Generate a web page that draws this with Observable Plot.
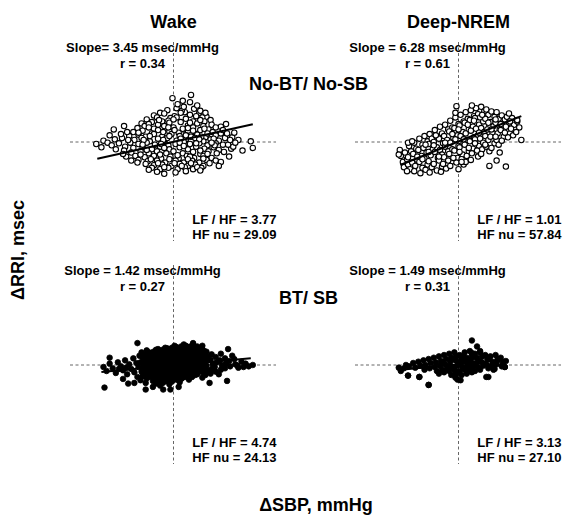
<!DOCTYPE html>
<html><head><meta charset="utf-8">
<script src="https://cdn.jsdelivr.net/npm/d3@7"></script>
<script src="https://cdn.jsdelivr.net/npm/@observablehq/plot@0.6"></script>
<style>
body{margin:0;background:#fff;font-family:"Liberation Sans",Arial,sans-serif;}
#wrap{position:relative;width:569px;height:527px;}
.lab{position:absolute;font-weight:bold;font-size:18px;color:#000;white-space:nowrap;line-height:1;}
#ylab{left:18px;top:250px;transform:translate(-50%,-50%) rotate(-90deg);}
#xlab{left:316px;top:505px;transform:translate(-50%,-50%);}
svg text{font-weight:bold;}
</style></head><body>
<div id="wrap"></div>
<script>
const states = ["Wake", "Deep-NREM"];
const groups = ["No-BT/ No-SB", "BT/ SB"];
const slopeLabels = ["Slope= 3.45 msec/mmHg", "Slope = 6.28 msec/mmHg", "Slope = 1.42 msec/mmHg", "Slope = 1.49 msec/mmHg"];
const rLabels = ["r = 0.34", "r = 0.61", "r = 0.27", "r = 0.31"];
const lfhfLabels = ["LF / HF = 3.77", "LF / HF = 1.01", "LF / HF = 4.74", "LF / HF = 3.13"];
const hfnuLabels = ["HF nu = 29.09", "HF nu = 57.84", "HF nu = 24.13", "HF nu = 27.10"];
const slopes = [3.45, 6.28, 1.42, 1.49];
const intercepts = [0.3, 0.8, -0.5, 1.2];
const lineFrom = [-7.4, -5.65, -7.0, -5.85];
const lineTo = [7.7, 6.1, 7.5, 4.5];
const xLabel = "ΔSBP, mmHg";
const yLabel = "ΔRRI, msec";

// ΔSBP (mmHg), ΔRRI (msec) pairs
const wakeNoBT = [
[-0.6,48],[0.3,51],[1.1,45],[2.0,50],[-1.3,44],[0.8,47],
[-1.9,40],[-0.9,43],[0.1,39],[0.7,44],[1.6,41],[2.5,44],[3.2,38],[-0.3,36],
[-2.6,34],[-1.6,37],[-0.5,32],[0.3,37],[1.2,35],[1.9,31],[2.8,37],[3.6,33],[-1.1,31],
[-3.1,28],[-2.1,30],[-1.5,26],[-0.4,29],[0.7,30],[1.4,25],[2.3,28],[3.0,31],[3.7,26],[4.6,23],[2.6,33],
[-3.5,21],[-2.8,24],[-1.9,20],[-0.9,24],[0.0,22],[1.0,19],[1.9,22],[2.9,24],[3.4,19],[4.1,22],[-2.4,27],
[-3.9,15],[-3.0,17],[-2.1,13],[-1.5,18],[-0.4,16],[0.5,14],[1.4,17],[2.2,12],[2.6,18],[3.8,15],[4.6,13],[0.9,20],
[-4.3,9],[-3.4,11],[-2.7,8],[-1.9,12],[-1.1,8],[-0.2,12],[0.6,9],[1.7,8],[2.3,11],[3.1,7],[4.1,10],[5.0,6],[-0.8,4],
[-3.8,3],[-3.1,6],[-2.3,1],[-1.5,5],[-0.6,6],[0.3,2],[1.2,4],[2.1,6],[2.9,1],[3.6,4],[4.4,2],
[-4.2,-1],[-3.4,-3],[-2.6,-1],[-1.8,-4],[-1.0,0],[0.2,-3],[1.0,0],[1.6,-3],[2.5,-2],[3.3,-5],[4.1,-2],[4.8,-4],[-0.5,-5],
[-3.9,-9],[-3.0,-8],[-2.1,-11],[-1.3,-7],[-0.4,-11],[0.6,-8],[1.4,-11],[2.2,-7],[3.0,-10],[3.9,-8],[4.4,-12],
[-4.1,-16],[-3.2,-14],[-2.4,-17],[-1.6,-14],[-0.7,-17],[0.0,-14],[0.9,-17],[1.9,-15],[2.6,-18],[3.4,-14],[4.2,-17],
[-3.7,-21],[-2.8,-23],[-1.9,-21],[-1.2,-25],[-0.3,-22],[0.5,-25],[1.3,-21],[2.0,-24],[2.9,-21],[3.7,-24],
[-3.4,-27],[-2.5,-29],[-1.6,-28],[-0.8,-31],[0.2,-28],[1.0,-31],[1.8,-28],[2.5,-31],[3.2,-27],[4.1,-28],
[-2.7,-33],[-1.9,-35],[-1.1,-34],[-0.2,-36],[0.6,-33],[1.4,-36],[2.1,-34],[2.9,-36],[3.5,-32],
[-2.1,-39],[-1.3,-41],[-0.5,-39],[0.4,-41],[1.1,-38],[1.9,-41],[2.7,-39],
[-1.4,33],[0.0,34],[1.6,29],[2.2,39],[-2.4,22],[-0.5,22],[1.4,21],[3.0,20],[-3.4,14],[-1.0,15],
[0.1,18],[1.9,17],[3.3,13],[-2.3,9],[-0.4,9],[1.2,10],[2.7,8],[3.9,5],[-2.9,3],[-1.0,3],
[0.7,5],[2.5,4],[4.0,-5],[-3.0,-4],[-1.2,-3],[0.6,-1],[2.2,-2],[3.7,-1],[-2.6,-12],[-0.9,-9],
[1.0,-6],[2.6,-13],[-3.2,-19],[-1.3,-19],[0.4,-20],[1.6,-22],[3.3,-18],[-2.2,-26],[-0.4,-26],[1.4,-26],
[2.9,-25],[-1.5,-32],[0.1,-32],[1.7,-32],[-0.9,-38],[0.8,-36],[2.3,-38],
[-7.5,-3],[-7.0,-8],[-6.8,2],[-6.4,-1],[-6.0,-5],[-5.7,4],[-5.3,-2],[-5.0,6],[-4.7,-7],[-4.4,3],
[-4.8,-13],[-5.6,-11],[-5.8,19],[-4.8,24],[-4.6,-22],[-4.1,-28],[-3.5,-31],[-6.2,10],[-5.1,12],[-4.5,15],[-4.9,-18],
[5.1,27],[5.7,7],[6.3,3],[7.5,1],[7.7,-9],[6.7,-13],[5.6,-10],[5.8,-7],[5.3,-4],[5.5,3],[6.0,-1],[4.8,18],[5.2,13],[4.9,-15],[5.4,-22],[4.6,-30],[4.4,-36],[5.9,14],
[-0.1,66],[1.7,71],[1.6,60],[0.4,57],[1.0,53],[2.3,55],[2.6,47],[3.1,44],[0.9,62],
[-1.6,-45],[1.2,-44],[-2.4,-42],[0.2,-46],[-0.9,-48],[2.6,-43]
];

const deepNoBT = [
[-5.6,-21],[-5.4,-30],[-5.7,-12],
[-5.2,-16],[-5.0,-26],[-5.3,-38],[-4.9,-34],
[-4.8,-6],[-4.6,-14],[-4.9,-23],[-4.5,-31],[-4.7,-41],
[-4.3,-1],[-4.1,-10],[-4.4,-18],[-4.0,-27],[-4.2,-36],[-4.3,-44],
[-3.8,5],[-3.5,-4],[-3.9,-12],[-3.6,-21],[-3.8,-30],[-3.5,-39],[-3.7,-47],
[-3.3,9],[-3.0,1],[-3.4,-9],[-3.1,-16],[-3.3,-25],[-3.0,-34],[-3.2,-42],
[-2.8,12],[-2.6,5],[-2.9,-3],[-2.5,-11],[-2.7,-20],[-2.9,-29],[-2.6,-38],[-2.8,-46],
[-2.3,18],[-2.0,8],[-2.4,0],[-2.1,-8],[-2.3,-15],[-2.0,-24],[-2.4,-33],[-2.1,-43],
[-1.8,23],[-1.6,13],[-1.9,5],[-1.5,-2],[-1.8,-12],[-1.6,-19],[-1.9,-28],[-1.6,-37],[-1.7,-45],
[-1.3,26],[-1.0,19],[-1.4,9],[-1.1,3],[-1.3,-7],[-1.0,-14],[-1.4,-23],[-1.1,-32],[-1.2,-40],
[-0.8,32],[-0.6,22],[-0.9,16],[-0.5,6],[-0.8,-1],[-0.6,-11],[-0.9,-18],[-0.6,-29],[-0.8,-36],
[-0.3,37],[0.0,27],[-0.4,21],[-0.1,10],[-0.3,4],[0.0,-6],[-0.4,-13],[-0.1,-24],[-0.2,-31],[0.0,-41],
[0.2,41],[0.5,31],[0.1,25],[0.4,15],[0.2,9],[0.5,-2],[0.1,-8],[0.4,-19],[0.3,-26],[0.5,-34],
[0.7,45],[0.9,35],[0.6,29],[1.0,19],[0.7,13],[0.9,3],[0.6,-4],[1.0,-14],[0.8,-21],[0.7,-30],
[1.2,48],[1.5,39],[1.1,33],[1.4,23],[1.2,17],[1.5,7],[1.1,1],[1.4,-10],[1.3,-17],[1.2,-27],
[1.7,51],[1.9,42],[1.6,36],[2.0,26],[1.7,20],[1.9,10],[1.6,4],[2.0,-6],[1.8,-13],[1.9,-22],
[2.2,53],[2.5,46],[2.1,37],[2.4,31],[2.2,21],[2.5,15],[2.1,5],[2.4,-1],[2.3,-11],[2.2,-18],
[2.7,49],[2.9,41],[2.6,35],[3.0,25],[2.8,19],[2.6,9],[2.9,3],[2.7,-7],[3.0,-14],
[3.2,46],[3.5,38],[3.1,30],[3.4,24],[3.3,14],[3.1,8],[3.5,-2],[3.2,-9],
[3.7,45],[3.9,35],[3.6,29],[4.0,19],[3.8,13],[3.7,3],[3.9,-4],
[4.2,40],[4.5,34],[4.3,24],[4.1,18],[4.4,8],[4.2,2],
[4.7,38],[4.9,29],[4.6,23],[5.0,13],[4.8,7],
[5.2,36],[5.4,26],[5.1,20],[5.3,10],
[5.7,31],[5.9,22],[5.6,15],
[-3.5,-26],[-2.9,-15],[-2.4,-5],[-1.9,-22],[-1.3,-1],[-1.0,-28],[-0.6,12],[-0.5,-24],[0.0,19],[0.1,-15],
[0.5,4],[0.9,26],[1.0,-9],[1.5,32],[1.6,-2],[2.0,14],[2.3,41],[2.6,-4],[2.9,29],[3.2,19],
[3.6,34],[3.6,8],[4.1,27],[4.5,14],[5.0,31],[-4.0,-22],[-3.2,-4],[-2.2,10],[-1.5,-33],[0.3,-30],
[-0.2,54],[1.3,55],[-0.3,44],[4.9,43],[6.1,3],[-4.9,-1],[-4.5,1],[-5.8,-19],[-5.0,-44],[3.0,-36],[4.6,-37],[3.7,-28],[4.0,-16],[5.7,33]
];

const wakeBT = [
[-6.8,-3],[-6.5,-9],[-6.2,2],[-5.9,-5],[-5.6,-12],[-5.4,4],[-5.1,-2],[-4.9,-8],[-4.7,7],[-4.5,-14],
[-4.3,1],[-4.1,-6],[-3.9,10],[-3.8,-11],[-3.6,3],[-3.4,-3],[-3.3,14],[-3.5,-18],[-4.6,-4],[-5.3,-6],
[-3.1,19],[-3.0,11],[-3.2,4],[-2.9,-4],[-3.1,-10],[-3.0,-17],[-3.2,-23],
[-2.6,22],[-2.7,15],[-2.5,8],[-2.6,1],[-2.8,-6],[-2.5,-13],[-2.6,-20],[-2.7,-27],
[-2.2,18],[-2.1,12],[-2.3,5],[-2.1,-2],[-2.2,-9],[-2.3,-16],[-2.0,-24],
[-1.7,23],[-1.8,16],[-1.6,9],[-1.7,2],[-1.9,-5],[-1.6,-12],[-1.8,-19],[-1.7,-28],
[-1.3,20],[-1.2,13],[-1.4,6],[-1.2,-1],[-1.3,-8],[-1.4,-15],[-1.2,-22],[-1.3,-31],
[-0.8,26],[-0.9,18],[-0.7,11],[-0.8,4],[-0.9,-3],[-0.7,-10],[-0.8,-17],[-0.9,-25],
[-0.4,22],[-0.3,15],[-0.5,8],[-0.3,1],[-0.4,-6],[-0.5,-13],[-0.3,-20],[-0.4,-29],
[0.1,29],[0.0,21],[0.2,14],[0.1,7],[0.0,0],[0.2,-7],[0.1,-14],[0.0,-22],
[0.5,25],[0.6,18],[0.4,11],[0.5,3],[0.6,-4],[0.4,-11],[0.5,-18],[0.6,-26],
[1.0,31],[0.9,23],[1.1,16],[1.0,9],[0.9,2],[1.1,-5],[1.0,-12],[0.9,-19],
[1.4,27],[1.5,20],[1.3,13],[1.4,6],[1.5,-1],[1.3,-8],[1.4,-15],[1.5,-22],
[1.9,31],[1.8,24],[2.0,17],[1.9,10],[1.8,3],[2.0,-4],[1.9,-11],[1.8,-18],
[2.3,28],[2.4,21],[2.2,14],[2.3,7],[2.4,0],[2.2,-7],[2.3,-14],
[2.8,24],[2.7,17],[2.9,10],[2.8,3],[2.7,-4],[2.9,-11],[2.8,-19],
[3.2,20],[3.3,13],[3.1,6],[3.2,-1],[3.3,-8],[3.1,-15],
[-2.9,15],[-2.8,7],[-2.9,0],[-2.8,-8],[-2.9,-14],
[-2.4,19],[-2.4,11],[-2.4,4],[-2.4,-3],[-2.4,-10],[-2.4,-18],
[-1.95,20],[-1.95,13],[-2.0,6],[-1.95,-1],[-1.95,-8],[-2.0,-15],[-1.9,-22],
[-1.5,24],[-1.5,16],[-1.5,9],[-1.5,2],[-1.5,-5],[-1.5,-12],[-1.5,-19],[-1.5,-25],
[-1.05,23],[-1.05,16],[-1.05,9],[-1.0,2],[-1.05,-5],[-1.05,-12],[-1.0,-19],[-1.05,-27],
[-0.6,25],[-0.6,18],[-0.6,11],[-0.6,4],[-0.6,-3],[-0.6,-10],[-0.6,-17],[-0.6,-24],
[-0.15,26],[-0.15,18],[-0.15,11],[-0.15,4],[-0.15,-3],[-0.15,-10],[-0.15,-17],[-0.15,-25],
[0.3,27],[0.3,20],[0.3,13],[0.3,6],[0.3,-1],[0.3,-8],[0.3,-15],[0.3,-22],
[0.75,28],[0.75,21],[0.75,14],[0.75,7],[0.75,0],[0.75,-7],[0.75,-14],[0.75,-21],
[1.2,29],[1.2,23],[1.2,16],[1.2,9],[1.2,2],[1.2,-5],[1.2,-12],[1.2,-18],
[1.65,28],[1.65,22],[1.65,15],[1.65,8],[1.65,1],[1.65,-6],[1.65,-13],
[2.1,27],[2.1,20],[2.1,13],[2.1,6],[2.1,-1],[2.1,-8],[2.1,-15],
[2.55,25],[2.55,18],[2.55,11],[2.55,4],[2.55,-3],[2.55,-10],
[3.0,21],[3.0,14],[3.0,7],[3.0,0],[3.0,-7],[3.0,-13],
[3.7,16],[3.6,8],[3.8,1],[3.7,-6],[3.6,-13],[4.1,12],[4.2,4],[4.0,-3],[4.1,-10],[4.6,17],
[4.5,7],[4.7,0],[4.6,-7],[5.0,10],[5.1,2],[5.0,-5],[5.4,6],[5.5,-2],[5.9,9],[6.0,1],
[6.3,-4],[6.6,5],[7.0,2],[5.7,14],[4.4,-14],[6.8,-3],
[-3.5,33],[1.9,33],[5.3,24],[-6.2,11],[-6.7,-34],[-4.4,-28],[-3.8,-27],[-2.7,-37],[-1.0,-37],[3.5,-27],
[5.2,-24],[7.7,0],[6.2,-1],[2.8,29],[-2.0,-33],[-4.9,-21],[7.3,-2],[0.5,-33],[-0.3,-37]
];

const deepBT = [
[-5.8,-4],[-5.6,-9],[-5.3,-5],[-5.1,0],[-4.8,-2],[-4.9,-16],[-4.4,3],[-4.2,-4],[-3.9,5],[-3.7,-1],
[-3.8,-18],[-3.4,7],[-3.2,0],[-3.3,-7],[-2.9,9],[-2.7,3],[-2.8,-5],[-2.9,-30],[-2.4,11],[-2.2,4],[-2.3,-3],[-2.1,-9],
[-1.9,13],[-1.7,6],[-1.8,-1],[-1.6,-7],[-1.9,-13],
[-1.4,15],[-1.2,9],[-1.3,1],[-1.1,-5],[-1.4,-11],
[-0.9,17],[-0.7,11],[-0.8,5],[-0.6,-3],[-0.9,-9],[-0.7,-15],
[-0.4,19],[-0.2,13],[-0.3,7],[-0.1,-1],[-0.4,-7],[-0.2,-13],[-0.3,-19],
[0.1,15],[0.3,9],[0.2,3],[0.4,-3],[0.1,-9],[0.3,-15],[0.2,-23],
[0.6,19],[0.8,11],[0.7,5],[0.9,-1],[0.6,-7],[0.8,-13],
[1.1,21],[1.3,15],[1.2,7],[1.4,1],[1.1,-5],[1.3,-11],
[1.6,17],[1.8,11],[1.7,3],[1.9,-3],[1.6,-9],
[2.1,19],[2.3,13],[2.2,5],[2.4,-1],[2.1,-7],
[2.6,15],[2.8,9],[2.7,1],[2.9,-5],[2.7,-18],
[3.1,13],[3.3,5],[3.2,-1],[3.4,-7],
[3.6,15],[3.8,7],[3.7,1],[3.5,-6],
[4.1,11],[4.3,3],[4.2,-2],
[4.6,6],[4.5,-3],
[-0.55,10],[-0.05,4],[0.45,-5],[0.95,8],[1.45,-2],[1.95,6],[2.45,2],[-1.05,-2],[-1.55,4],[0.45,13],
[1.45,12],[2.95,10],[3.45,2],[-0.3,-10],[1.0,-8],
[1.3,37],[1.8,28],[2.1,21],[1.3,18],[-2.9,-30],[-4.9,-16],[-3.8,-18],[2.9,-18],[-0.1,-22],[3.8,9],[4.5,-3]
];

const sets = [wakeNoBT, deepNoBT, wakeBT, deepBT];
const panels = sets.map((_, i) => ({
  state: states[i % 2], group: groups[Math.floor(i / 2)],
  slope: slopeLabels[i], r: rLabels[i], lfhf: lfhfLabels[i], hfnu: hfnuLabels[i],
  x1: lineFrom[i], x2: lineTo[i],
  y1: intercepts[i] + slopes[i] * lineFrom[i], y2: intercepts[i] + slopes[i] * lineTo[i]
}));
const pts = sets.flatMap((arr, i) => arr.map(([x, y]) => ({state: states[i % 2], group: groups[Math.floor(i / 2)], x, y, filled: i >= 2})));
const rowLab = groups.map(g => ({state: states[0], group: g, label: g}));

const dash = {stroke: "#666", strokeWidth: 1, strokeDasharray: "3,2.5"};
const font = {fontSize: 13, fontWeight: "bold", fill: "black"};

const chart = Plot.plot({
  width: 569, height: 527,
  marginTop: 41, marginBottom: 62, marginLeft: 69, marginRight: 7,
  x: {domain: [-10, 10], axis: null},
  y: {domain: [-150, 150], axis: null},
  fx: {domain: states, padding: 0.276, label: null},
  fy: {domain: groups, padding: 0.107, axis: null, label: null},
  style: {fontFamily: "'Liberation Sans', Arial, sans-serif", background: "white", color: "black"},
  marks: [
    Plot.axisFx({anchor: "top", tickSize: 0, tickPadding: 15, fontSize: 18, fontWeight: "bold", label: null}),
    Plot.ruleY([0], dash),
    Plot.ruleX([0], dash),
    Plot.dot(pts.filter(d => !d.filled), {fx: "state", fy: "group", x: "x", y: "y", r: 2.7, stroke: "black", strokeWidth: 1.1, fill: "white"}),
    Plot.dot(pts.filter(d => d.filled), {fx: "state", fy: "group", x: "x", y: "y", r: 2.8, stroke: "black", strokeWidth: 0.8, fill: "black"}),
    Plot.link(panels, {fx: "state", fy: "group", x1: "x1", y1: "y1", x2: "x2", y2: "y2", stroke: "black", strokeWidth: 2}),
    Plot.text(panels, {fx: "state", fy: "group", text: "slope", frameAnchor: "top", dx: -31, dy: 5, lineAnchor: "middle", ...font}),
    Plot.text(panels, {fx: "state", fy: "group", text: "r", frameAnchor: "top", dx: -31, dy: 21, lineAnchor: "middle", ...font}),
    Plot.text(panels, {fx: "state", fy: "group", text: "lfhf", frameAnchor: "bottom-right", textAnchor: "end", dy: -22, lineAnchor: "middle", ...font}),
    Plot.text(panels, {fx: "state", fy: "group", text: "hfnu", frameAnchor: "bottom-right", textAnchor: "end", dy: -7, lineAnchor: "middle", ...font}),
    Plot.text(rowLab.slice(0, 1), {fx: "state", fy: "group", text: "label", frameAnchor: "top-right", textAnchor: "middle", dx: 32, dy: 42, lineAnchor: "middle", fontSize: 18, fontWeight: "bold", fill: "black"}),
    Plot.text(rowLab.slice(1), {fx: "state", fy: "group", text: "label", frameAnchor: "top-right", textAnchor: "middle", dx: 32, dy: 33, lineAnchor: "middle", fontSize: 18, fontWeight: "bold", fill: "black"})
  ]
});
const wrap = document.getElementById("wrap");
wrap.appendChild(chart);
const yl = document.createElement("div"); yl.className = "lab"; yl.id = "ylab"; yl.textContent = yLabel; wrap.appendChild(yl);
const xl = document.createElement("div"); xl.className = "lab"; xl.id = "xlab"; xl.textContent = xLabel; wrap.appendChild(xl);
</script>
</body></html>
